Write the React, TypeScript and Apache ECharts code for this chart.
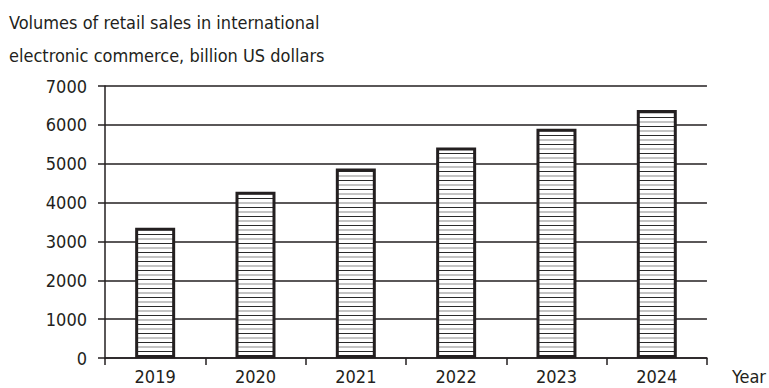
import React, { useEffect, useRef } from "react";
import * as echarts from "echarts";

const categories = ["2019", "2020", "2021", "2022", "2023", "2024"];
const salesValues = [3350, 4280, 4880, 5420, 5900, 6380];
const yTicks = [0, 1000, 2000, 3000, 4000, 5000, 6000, 7000];
const titleLines = [
  "Volumes of retail sales in international",
  "electronic commerce, billion US dollars",
];
const xAxisName = "Year";

const FONT = "'DejaVu Sans Condensed', sans-serif";
const INK = "#231f20";
const FS = 18;

const stripeSvg =
  "<svg xmlns='http://www.w3.org/2000/svg' width='4' height='9'>" +
  "<rect width='4' height='9' fill='white'/>" +
  "<rect y='0' width='4' height='1' fill='#2a2a2a'/>" +
  "<rect y='4.5' width='4' height='1' fill='#8a8a8a'/>" +
  "</svg>";
const stripeUrl = "data:image/svg+xml;charset=utf-8," + encodeURIComponent(stripeSvg);

export default function App() {
  const ref = useRef<HTMLDivElement>(null);
  useEffect(() => {
    if (!ref.current) return;
    const chart = echarts.init(ref.current, undefined, { renderer: "svg" });
    chart.setOption({
      animation: false,
      backgroundColor: "#ffffff",
      title: {
        text: titleLines.join("\n"),
        left: 9,
        top: 6,
        padding: 0,
        textStyle: {
          fontFamily: FONT,
          fontSize: FS,
          fontWeight: "normal",
          color: INK,
          lineHeight: 33,
        },
      },
      grid: { left: 105, right: 60, top: 86, bottom: 30 },
      xAxis: {
        type: "category",
        data: categories,
        name: xAxisName,
        nameLocation: "end",
        nameGap: 25,
        nameTextStyle: {
          fontFamily: FONT,
          fontSize: FS,
          color: INK,
          verticalAlign: "top",
          padding: [9, 0, 0, 0],
        },
        axisLine: { show: true, lineStyle: { color: INK, width: 1.5 } },
        axisTick: { show: true, length: 7, lineStyle: { color: INK, width: 1.5 } },
        axisLabel: { fontFamily: FONT, fontSize: FS, color: INK, margin: 9 },
      },
      yAxis: {
        type: "value",
        min: yTicks[0],
        max: yTicks[yTicks.length - 1],
        interval: 1000,
        axisLine: { show: true, lineStyle: { color: INK, width: 1.5 } },
        axisTick: { show: true, length: 7, lineStyle: { color: INK, width: 1.5 } },
        axisLabel: {
          fontFamily: FONT,
          fontSize: FS,
          color: INK,
          margin: 18,
          formatter: (v: number) => String(v),
        },
        splitLine: { show: true, lineStyle: { color: INK, width: 1.5 } },
      },
      series: [
        {
          type: "bar",
          data: salesValues,
          barWidth: 40,
          itemStyle: {
            color: {
              image: stripeUrl,
              repeat: "repeat",
              imageWidth: 4,
              imageHeight: 9,
            } as any,
            borderColor: INK,
            borderWidth: 3,
          },
        },
      ],
    });
    return () => chart.dispose();
  }, []);
  return (
    <div
      ref={ref}
      style={{ position: "absolute", left: 0, top: 0, width: 769, height: 388 }}
    />
  );
}
